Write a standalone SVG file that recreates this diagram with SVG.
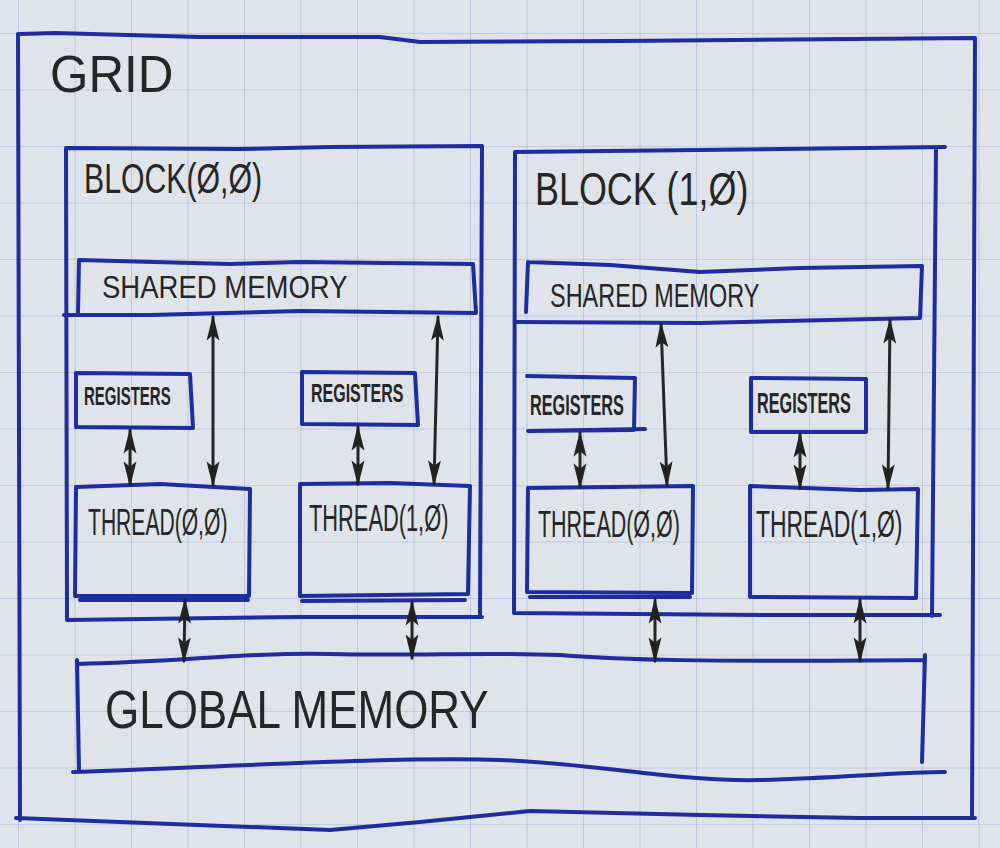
<svg xmlns="http://www.w3.org/2000/svg" width="1000" height="848" viewBox="0 0 1000 848">
<defs>
<pattern id="paper" x="18" y="33" width="56.5" height="56.5" patternUnits="userSpaceOnUse">
<path d="M0,0 H56.5 M0,0 V56.5" fill="none" stroke="#a7b6d6" stroke-width="1.2"/>
</pattern>
<marker id="ah" viewBox="0 0 24 14" refX="22" refY="7" markerWidth="26" markerHeight="15" markerUnits="userSpaceOnUse" orient="auto-start-reverse">
<path d="M0,1 L24,7 L0,13 L5,7 Z" fill="#222"/>
</marker>
<style>
.box{fill:none;stroke:#1d2c9e;stroke-width:4;stroke-linejoin:round;stroke-linecap:round}
.arr{fill:none;stroke:#262626;stroke-width:3;stroke-linecap:round;marker-start:url(#ah);marker-end:url(#ah)}
.t{font-family:"Liberation Sans",Arial,sans-serif;fill:#262626}
.r{font-family:"Liberation Sans",Arial,sans-serif;fill:#262626;font-weight:bold}
</style>
</defs>
<rect width="1000" height="848" fill="#dfe3ea"/>
<rect width="1000" height="848" fill="url(#paper)"/>

<g id="grid">
<path class="box" d="M20,34 L55,33 L200,37 L380,37 L420,42 L620,41 L975,38 L972,818 M18,34 L20,820 M16,818 L120,822 L330,830 L420,822 L530,811 L700,815 L860,818 L975,818"/>
<text class="t" font-size="52" transform="translate(50,92) scale(0.95,1)">GRID</text>
</g>

<g id="block00">
<path class="box" d="M66,148 L240,149 L330,147 L482,146 L480,617 M66,148 L67,620 L300,617 L482,617"/>
<text class="t" font-size="42" transform="translate(84,193) scale(0.72,1)">BLOCK(Ø,Ø)</text>
</g>
<g id="shared00">
<path class="box" d="M79,260 L230,264 L300,262 L473,264 L476,313 L300,311 L150,315 L64,315 M79,260 L78,313"/>
<text class="t" font-size="32" transform="translate(102,298) scale(0.86,1)">SHARED   MEMORY</text>
</g>
<g id="reg00a">
<path class="box" d="M76,373 L190,374 L193,428 L76,427 Z"/>
<text class="r" font-size="25" transform="translate(84,405) scale(0.6,1)">REGISTERS</text>
</g>
<g id="reg00b">
<path class="box" d="M302,372 L415,373 L418,425 L302,424 Z"/>
<text class="r" font-size="25" transform="translate(311,402) scale(0.64,1)">REGISTERS</text>
</g>
<g id="thread00a">
<path class="box" d="M76,487 L160,484 L250,489 L249,596 L75,596 Z M80,600 L248,600"/>
<text class="t" font-size="37" transform="translate(88,535) scale(0.57,1)">THREAD(Ø,Ø)</text>
</g>
<g id="thread00b">
<path class="box" d="M300,484 L390,483 L470,486 L468,594 L300,596 Z M302,601 L465,600"/>
<text class="t" font-size="37" transform="translate(309,531) scale(0.59,1)">THREAD(1,Ø)</text>
</g>

<g id="block10">
<path class="box" d="M515,152 L700,150 L945,147 M936,149 L932,616 M515,152 L514,613 L760,615 L940,615"/>
<text class="t" font-size="46" transform="translate(535,205) scale(0.78,1)">BLOCK (1,Ø)</text>
</g>
<g id="shared10">
<path class="box" d="M528,262 L610,265 L700,272 L800,268 L922,266 L920,318 L700,323 L515,322 M528,262 L526,312"/>
<text class="t" font-size="34" transform="translate(550,307) scale(0.69,1)">SHARED MEMORY</text>
</g>
<g id="reg10a">
<path class="box" d="M527,376 L635,378 L634,430 L528,431 L645,429"/>
<text class="r" font-size="29" transform="translate(530,415) scale(0.56,1)">REGISTERS</text>
</g>
<g id="reg10b">
<path class="box" d="M751,378 L866,379 L866,432 L751,432 Z"/>
<text class="r" font-size="29" transform="translate(757,413) scale(0.56,1)">REGISTERS</text>
</g>
<g id="thread10a">
<path class="box" d="M528,488 L693,486 L692,593 L527,592 Z M530,597 L690,597"/>
<text class="t" font-size="37" transform="translate(538,537) scale(0.58,1)">THREAD(Ø,Ø)</text>
</g>
<g id="thread10b">
<path class="box" d="M750,486 L860,490 L918,489 L916,598 L750,597 Z"/>
<text class="t" font-size="37" transform="translate(756,537) scale(0.62,1)">THREAD(1,Ø)</text>
</g>

<g id="global">
<path class="box" d="M77,664 C180,662 250,652 330,654 C420,656 480,652 560,655 C620,660 700,662 925,660 M77,660 L79,770 M925,655 L922,762 M73,772 C200,768 400,756 500,760 C600,764 680,782 760,780 C840,778 900,772 945,772"/>
<text class="t" font-size="53" transform="translate(105,728) scale(0.83,1)">GLOBAL MEMORY</text>
</g>

<g id="connectors">
<path class="arr" d="M130,430 L130,485"/>
<path class="arr" d="M213,317 L213,485"/>
<path class="arr" d="M358,427 L358,484"/>
<path class="arr" d="M438,317 L434,484"/>
<path class="arr" d="M185,600 L184,661"/>
<path class="arr" d="M412,602 L412,658"/>
<path class="arr" d="M580,433 L580,487"/>
<path class="arr" d="M661,324 L667,485"/>
<path class="arr" d="M800,434 L800,488"/>
<path class="arr" d="M890,320 L888,488"/>
<path class="arr" d="M655,600 L655,661"/>
<path class="arr" d="M860,600 L860,661"/>
</g>
</svg>
